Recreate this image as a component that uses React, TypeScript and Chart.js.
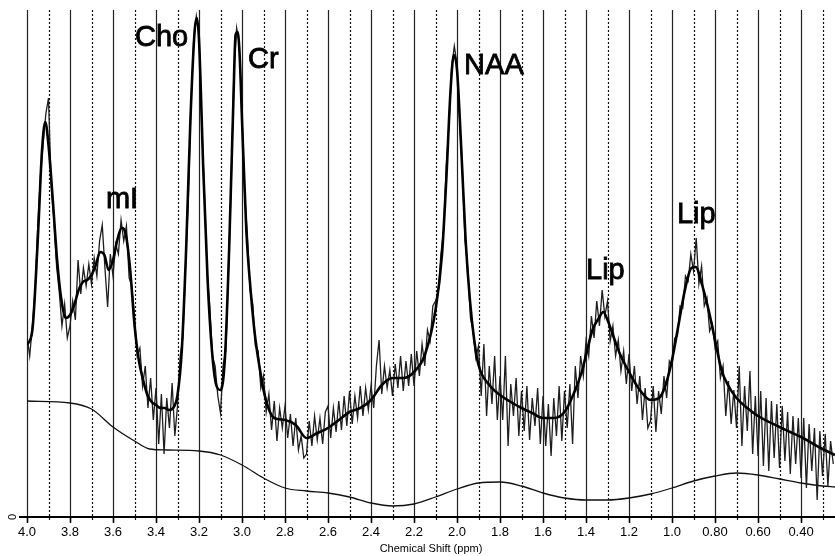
import React, { useEffect, useRef } from 'react';
import { Chart, registerables } from 'chart.js';

Chart.register(...registerables);

const FONT = "'Liberation Sans', Arial, sans-serif";

// axis
const X_MIN = 0.242;
const X_MAX = 4.0;
const Y_MAX = 506;
const GRID_STEP = 0.1;
const TICK_VALUES = [4.0, 3.8, 3.6, 3.4, 3.2, 3.0, 2.8, 2.6, 2.4, 2.2, 2.0, 1.8, 1.6, 1.4, 1.2, 1.0, 0.8, 0.6, 0.4];
const TICK_LABELS = ['4.0', '3.8', '3.6', '3.4', '3.2', '3.0', '2.8', '2.6', '2.4', '2.2', '2.0', '1.8', '1.6', '1.4', '1.2', '1.0', '0.80', '0.60', '0.40'];
const X_TITLE = 'Chemical Shift (ppm)';

// raw spectrum sampled every 0.0125 ppm starting at 4.0 ppm
const SPEC_START = 4.0;
const SPEC_STEP = 0.0125;
const SPECTRUM = [
  180, 160, 190, 225, 290, 340, 372, 402,
  418, 330, 296, 250, 224, 190, 212, 178,
  190, 215, 196, 256, 222, 248, 230, 252,
  232, 258, 240, 275, 291, 248, 209, 262,
  240, 272, 262, 296, 275, 290, 238, 230,
  200, 160, 168, 130, 150, 108, 138, 96,
  128, 72, 122, 62, 118, 88, 133, 80,
  110, 160, 178, 250, 315, 410, 475, 500,
  482, 395, 325, 245, 210, 160, 150, 120,
  103, 152, 165, 248, 335, 445, 488, 472,
  400, 320, 282, 225, 212, 170, 165, 128,
  140, 104, 122, 86, 115, 75, 108, 88,
  110, 78, 102, 70, 98, 66, 80, 58,
  62, 95, 70, 100, 76, 98, 72, 104,
  110, 78, 108, 84, 115, 86, 120, 90,
  125, 92, 120, 98, 130, 100, 128, 106,
  130, 108, 150, 176, 122, 150, 128, 146,
  120, 152, 128, 160, 125, 155, 130, 162,
  130, 165, 140, 172, 150, 186, 175, 210,
  215, 222, 262, 285, 350, 392, 448, 470,
  452, 395, 345, 275, 248, 198, 185, 158,
  170, 120, 172, 100, 150, 112, 160, 96,
  140, 96, 160, 70, 132, 100, 138, 80,
  125, 85, 130, 76, 118, 90, 128, 72,
  120, 70, 112, 60, 118, 80, 130, 75,
  125, 88, 132, 72, 150, 118, 160, 140,
  175, 160, 200, 178, 215, 190, 226, 200,
  215, 175, 190, 160, 176, 145, 165, 132,
  162, 125, 150, 112, 140, 96, 128, 88,
  95, 130, 84, 125, 102, 140, 118, 155,
  150, 178, 180, 210, 208, 240, 235, 262,
  245, 278, 232, 250, 210, 218, 185, 192,
  168, 175, 138, 150, 100, 135, 92, 126,
  88, 150, 70, 130, 85, 145, 62, 120,
  60, 125, 50, 118, 45, 115, 58, 112,
  48, 110, 55, 104, 42, 100, 52, 98,
  38, 98, 28, 92, 45, 88, 16, 85,
  40, 82, 30, 75, 52,
];

// fitted model
const FIT_PPM = [
  4.0, 3.975, 3.95, 3.93, 3.915, 3.9, 3.88, 3.86, 3.84, 3.82, 3.8, 3.78, 3.76, 3.74, 3.72, 3.7,
  3.68, 3.66, 3.64, 3.62, 3.6, 3.58, 3.56, 3.54, 3.52, 3.5, 3.48, 3.46, 3.44, 3.42, 3.4, 3.38,
  3.36, 3.34, 3.32, 3.3, 3.28, 3.26, 3.24, 3.22, 3.21, 3.2, 3.18, 3.16, 3.14, 3.12, 3.1, 3.08,
  3.06, 3.04, 3.03, 3.02, 3.01, 3.0, 2.98, 2.96, 2.94, 2.92, 2.9, 2.87, 2.85, 2.8, 2.75, 2.7,
  2.65, 2.6, 2.55, 2.5, 2.45, 2.4, 2.35, 2.3, 2.25, 2.2, 2.15, 2.1, 2.07, 2.05, 2.03, 2.015,
  2.0, 1.98, 1.96, 1.94, 1.92, 1.9, 1.85, 1.8, 1.75, 1.7, 1.65, 1.6, 1.55, 1.5, 1.45, 1.42,
  1.4, 1.37, 1.34, 1.32, 1.3, 1.27, 1.24, 1.2, 1.15, 1.1, 1.06, 1.03, 1.0, 0.97, 0.94, 0.91,
  0.89, 0.86, 0.83, 0.8, 0.77, 0.74, 0.7, 0.65, 0.6, 0.5, 0.45, 0.4, 0.35, 0.3, 0.242,
];
const FIT_VAL = [
  171, 186, 276, 366, 394, 371, 316, 256, 216, 198, 201, 211, 226, 234, 236, 241,
  251, 264, 261, 246, 256, 276, 288, 281, 246, 191, 156, 136, 121, 114, 111, 108,
  108, 106, 108, 121, 166, 266, 396, 486, 498, 476, 346, 236, 166, 131, 126, 156,
  266, 416, 481, 484, 456, 396, 286, 226, 181, 151, 126, 104, 98, 96, 91, 78,
  83, 88, 96, 104, 108, 116, 131, 138, 138, 144, 161, 206, 261, 336, 426, 461,
  446, 366, 276, 216, 176, 151, 131, 121, 114, 108, 103, 98, 98, 104, 126, 144,
  161, 186, 198, 204, 196, 178, 161, 144, 126, 116, 118, 131, 156, 191, 226, 248,
  249, 231, 206, 176, 146, 131, 118, 108, 100, 89, 84, 79, 73, 67, 61,
];

// baseline
const BASE_PPM = [
  4.0, 3.8, 3.7, 3.6, 3.5, 3.43, 3.35, 3.2, 3.1, 3.0, 2.9, 2.8, 2.7, 2.6, 2.5, 2.4, 2.3, 2.2,
  2.1, 2.0, 1.9, 1.8, 1.7, 1.6, 1.5, 1.4, 1.3, 1.2, 1.1, 1.0, 0.9, 0.8, 0.7, 0.6, 0.5, 0.4, 0.3, 0.242,
];
const BASE_VAL = [
  115, 113, 107, 89, 75, 67, 66, 65, 61, 51, 38, 28, 25, 23, 19, 13, 10, 12,
  19, 27, 33, 34, 30, 23, 18, 16, 16, 18, 22, 28, 35, 40, 43, 41, 37, 33, 30, 29,
];

// peak labels (text start ppm, baseline level)
const PEAK_LABELS = ['mI', 'Cho', 'Cr', 'NAA', 'Lip', 'Lip'];
const PEAK_PPM = [3.633, 3.498, 2.972, 1.967, 1.4, 0.977];
const PEAK_LEVEL = [308, 470, 448, 442, 237, 293];

const overlay = {
  id: 'mrsOverlay',
  beforeDatasetsDraw(chart: any) {
    const { ctx, chartArea, scales } = chart;
    const xs = scales.x;
    const y0 = scales.y.getPixelForValue(0);
    ctx.save();
    const n = Math.round((X_MAX - X_MIN) / GRID_STEP);
    for (let k = 0; k <= n; k++) {
      const v = X_MAX - k * GRID_STEP;
      if (v < X_MIN) break;
      const px = Math.round(xs.getPixelForValue(v)) + 0.5;
      ctx.beginPath();
      if (k % 2 === 0) {
        ctx.setLineDash([]);
        ctx.strokeStyle = '#222';
        ctx.lineWidth = 1.2;
      } else {
        ctx.setLineDash([2, 2]);
        ctx.strokeStyle = '#111';
        ctx.lineWidth = 1.2;
      }
      ctx.moveTo(px, chartArea.top);
      ctx.lineTo(px, y0 + 6);
      ctx.stroke();
    }
    ctx.restore();
  },
  afterDraw(chart: any) {
    const { ctx, chartArea, scales } = chart;
    const xs = scales.x;
    const ys = scales.y;
    const y0 = ys.getPixelForValue(0) + 1;
    ctx.save();
    // axis line
    ctx.setLineDash([]);
    ctx.strokeStyle = '#000';
    ctx.lineWidth = 2;
    ctx.beginPath();
    ctx.moveTo(chartArea.left - 8, y0);
    ctx.lineTo(chartArea.right, y0);
    ctx.stroke();
    // label ticks
    ctx.lineWidth = 1.5;
    TICK_VALUES.forEach((v) => {
      const px = Math.round(xs.getPixelForValue(v)) + 0.5;
      ctx.beginPath();
      ctx.moveTo(px, y0);
      ctx.lineTo(px, y0 + 6);
      ctx.stroke();
    });
    // y zero label
    ctx.fillStyle = '#000';
    ctx.font = `11px ${FONT}`;
    ctx.translate(chartArea.left - 14, y0);
    ctx.rotate(-Math.PI / 2);
    ctx.textAlign = 'center';
    ctx.textBaseline = 'middle';
    ctx.fillText('0', 0, 0);
    ctx.restore();

    ctx.save();
    ctx.fillStyle = '#000';
    ctx.strokeStyle = '#000';
    ctx.lineWidth = 0.8;
    ctx.font = `29px ${FONT}`;
    ctx.textAlign = 'left';
    ctx.textBaseline = 'alphabetic';
    PEAK_LABELS.forEach((t, i) => {
      const x = xs.getPixelForValue(PEAK_PPM[i]);
      const y = ys.getPixelForValue(PEAK_LEVEL[i]);
      ctx.fillText(t, x, y);
      ctx.strokeText(t, x, y);
    });
    ctx.restore();
  },
};

export default function App() {
  const ref = useRef<HTMLCanvasElement | null>(null);
  useEffect(() => {
    document.body.style.margin = '0';
    const canvas = ref.current;
    if (!canvas) return;
    const spectrum = SPECTRUM.map((v, i) => ({ x: SPEC_START - i * SPEC_STEP, y: v }));
    const fit = FIT_PPM.map((p, i) => ({ x: p, y: FIT_VAL[i] }));
    const base = BASE_PPM.map((p, i) => ({ x: p, y: BASE_VAL[i] }));
    const chart = new Chart(canvas, {
      type: 'line',
      data: {
        datasets: [
          {
            label: 'Fit',
            data: fit,
            borderColor: '#000',
            borderWidth: 2.6,
            pointRadius: 0,
            cubicInterpolationMode: 'monotone',
            fill: false,
          },
          {
            label: 'Spectrum',
            data: spectrum,
            borderColor: '#1e1e1e',
            borderWidth: 1.3,
            pointRadius: 0,
            tension: 0,
            fill: false,
          },
          {
            label: 'Baseline',
            data: base,
            borderColor: '#111',
            borderWidth: 1.3,
            pointRadius: 0,
            cubicInterpolationMode: 'monotone',
            fill: false,
          },
        ],
      },
      options: {
        animation: false,
        responsive: false,
        devicePixelRatio: 1,
        layout: { padding: { left: 27, right: 0, top: 10, bottom: 0 } },
        plugins: { legend: { display: false }, tooltip: { enabled: false } },
        scales: {
          x: {
            type: 'linear',
            reverse: true,
            min: X_MIN,
            max: X_MAX,
            afterBuildTicks: (s: any) => {
              s.ticks = TICK_VALUES.map((v) => ({ value: v }));
            },
            afterFit: (s: any) => {
              s.height = 40;
            },
            grid: { display: false, drawTicks: true, tickLength: 5 },
            border: { display: false },
            ticks: {
              autoSkip: false,
              maxRotation: 0,
              minRotation: 0,
              padding: 4,
              color: '#000',
              font: { family: FONT, size: 13 },
              callback: (_v: any, i: number) => TICK_LABELS[i],
            },
            title: {
              display: true,
              text: X_TITLE,
              color: '#000',
              font: { family: FONT, size: 11 },
              padding: { top: 0, bottom: 0 },
            },
          },
          y: {
            display: false,
            min: 0,
            max: Y_MAX,
          },
        },
      },
      plugins: [overlay],
    });
    return () => chart.destroy();
  }, []);
  return (
    <div style={{ position: 'absolute', left: 0, top: 0, width: 835, height: 556, background: '#fff' }}>
      <canvas ref={ref} width={835} height={556} />
    </div>
  );
}
